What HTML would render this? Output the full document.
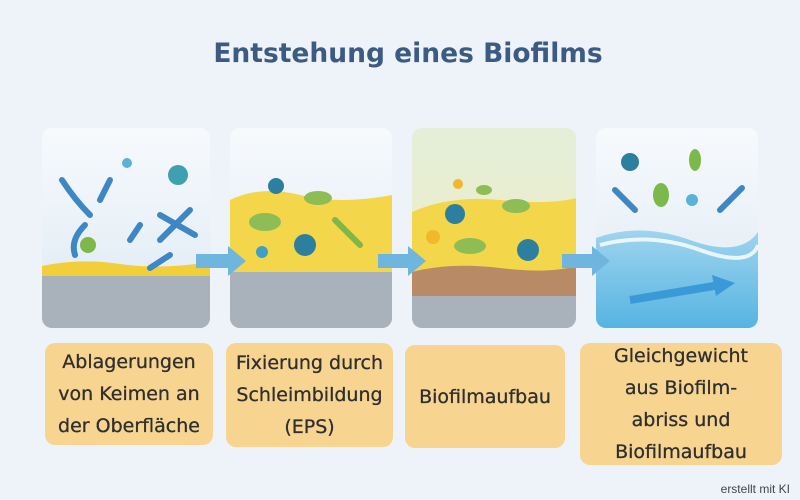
<!DOCTYPE html>
<html><head><meta charset="utf-8"><style>
body{margin:0;width:800px;height:500px;background:#eef3f9;font-family:"DejaVu Sans","Liberation Sans",sans-serif;overflow:hidden;position:relative}
.t{position:absolute;top:38px;left:8px;width:800px;text-align:center;font-size:26.5px;font-weight:bold;color:#3b5b82}
.l{position:absolute;background:#f7d591;border-radius:10px;display:flex;align-items:center;justify-content:center;text-align:center;font-size:19px;line-height:32px;color:#2f2f2f;-webkit-text-stroke:.3px #2f2f2f}
.k{position:absolute;right:10px;bottom:4px;font-size:12px;color:#444;font-family:"Liberation Sans",sans-serif}
</style></head><body>
<div class="t">Entstehung eines Biofilms</div>
<svg width="800" height="500" style="position:absolute;left:0;top:0">
<defs>
<linearGradient id="g1" x1="0" y1="0" x2="0" y2="1"><stop offset="0" stop-color="#f7fafd"/><stop offset="1" stop-color="#dde9f4"/></linearGradient>
<linearGradient id="g3" x1="0" y1="0" x2="0" y2="1"><stop offset="0" stop-color="#e4efd9"/><stop offset="1" stop-color="#f2ecc0"/></linearGradient>
<linearGradient id="w" x1="0" y1="0" x2="0" y2="1"><stop offset="0" stop-color="#9fd4ee"/><stop offset="1" stop-color="#55b4e2"/></linearGradient>
<clipPath id="c1"><rect x="42" y="128" width="168" height="200" rx="10"/></clipPath>
<clipPath id="c2"><rect x="230" y="128" width="162" height="200" rx="10"/></clipPath>
<clipPath id="c3"><rect x="412" y="128" width="164" height="200" rx="10"/></clipPath>
<clipPath id="c4"><rect x="596" y="128" width="162" height="200" rx="10"/></clipPath>
</defs>
<g clip-path="url(#c1)">
<rect x="42" y="128" width="168" height="200" fill="url(#g1)"/>
<rect x="42" y="272" width="168" height="56" fill="#a9b1bb"/>
<path d="M42 266 Q80 258 120 264 T210 262 V276 H42Z" fill="#f2cf3a"/>
<g stroke="#3d88c4" stroke-width="6" stroke-linecap="round" fill="none">
<path d="M62 180 Q75 200 90 215"/><path d="M110 180 L100 200"/><path d="M160 215 L195 235"/><path d="M160 240 L190 210"/><path d="M130 240 L140 225"/><path d="M150 268 L170 255"/><path d="M85 225 Q70 240 75 255"/>
</g>
<circle cx="178" cy="175" r="10" fill="#3fa0b0"/><circle cx="127" cy="163" r="5" fill="#5bb2d8"/><circle cx="88" cy="245" r="8" fill="#7cb84a"/>
</g>
<g clip-path="url(#c2)">
<rect x="230" y="128" width="162" height="200" fill="url(#g1)"/>
<path d="M230 200 Q260 185 300 195 T392 195 V328 H230Z" fill="#f3d64a"/>
<rect x="230" y="272" width="162" height="56" fill="#a9b1bb"/>
<ellipse cx="265" cy="222" rx="16" ry="9" fill="#8ebd55"/><ellipse cx="318" cy="198" rx="14" ry="7" fill="#8ebd55"/>
<circle cx="305" cy="245" r="11" fill="#2d7fa0"/><circle cx="276" cy="186" r="8" fill="#2d7fa0"/><circle cx="262" cy="252" r="6" fill="#3f9fc6"/>
<path d="M335 220 L360 245" stroke="#7cb84a" stroke-width="6" stroke-linecap="round"/>
</g>
<g clip-path="url(#c3)">
<rect x="412" y="128" width="164" height="200" fill="url(#g3)"/>
<path d="M412 212 Q450 195 500 200 T576 198 V275 H412Z" fill="#f3d64a"/>
<path d="M412 272 Q450 262 500 268 T576 266 V300 H412Z" fill="#b98a66"/>
<rect x="412" y="296" width="164" height="32" fill="#a9b1bb"/>
<ellipse cx="470" cy="246" rx="16" ry="8" fill="#8ebd55"/><ellipse cx="516" cy="206" rx="14" ry="7" fill="#8ebd55"/>
<circle cx="455" cy="214" r="10" fill="#2d7fa0"/><circle cx="528" cy="250" r="11" fill="#2d7fa0"/><circle cx="433" cy="237" r="7" fill="#f0b82a"/>
<circle cx="458" cy="184" r="5" fill="#f0b82a"/><ellipse cx="484" cy="190" rx="8" ry="5" fill="#8ebd55"/>
</g>
<g clip-path="url(#c4)">
<rect x="596" y="128" width="162" height="200" fill="url(#g1)"/>
<path d="M596 238 Q640 222 690 240 T758 232 V328 H596Z" fill="url(#w)"/>
<path d="M600 245 Q650 232 700 250 T758 245" stroke="#fff" stroke-width="4" fill="none" opacity=".8"/>
<path d="M630 300 L720 285" stroke="#3a9ad8" stroke-width="8"/><path d="M712 275 L735 283 L716 296Z" fill="#3a9ad8"/>
<circle cx="630" cy="162" r="9" fill="#2d7fa0"/><ellipse cx="661" cy="195" rx="8" ry="12" fill="#7cb84a"/><ellipse cx="695" cy="160" rx="6" ry="11" fill="#7cb84a"/>
<path d="M615 190 L635 210" stroke="#3d88c4" stroke-width="6" stroke-linecap="round"/><path d="M720 210 L742 188" stroke="#3d88c4" stroke-width="6" stroke-linecap="round"/>
<circle cx="692" cy="200" r="6" fill="#5bb2d8"/>
</g>
<g fill="#6fb6df">
<path d="M196 254 H228 V246 L246 261 L228 276 V268 H196Z"/>
<path d="M378 254 H408 V246 L426 261 L408 276 V268 H378Z"/>
<path d="M562 254 H592 V246 L610 261 L592 276 V268 H562Z"/>
</g>
</svg>
<div class="l" style="left:45px;top:343px;width:168px;height:102px">Ablagerungen<br>von Keimen an<br>der Oberfläche</div>
<div class="l" style="left:226px;top:343px;width:167px;height:104px">Fixierung durch<br>Schleimbildung<br>(EPS)</div>
<div class="l" style="left:405px;top:345px;width:160px;height:103px">Biofilmaufbau</div>
<div class="l" style="left:580px;top:343px;width:202px;height:122px">Gleichgewicht<br>aus Biofilm-<br>abriss und<br>Biofilmaufbau</div>
<div class="k">erstellt mit KI</div>
</body></html>
